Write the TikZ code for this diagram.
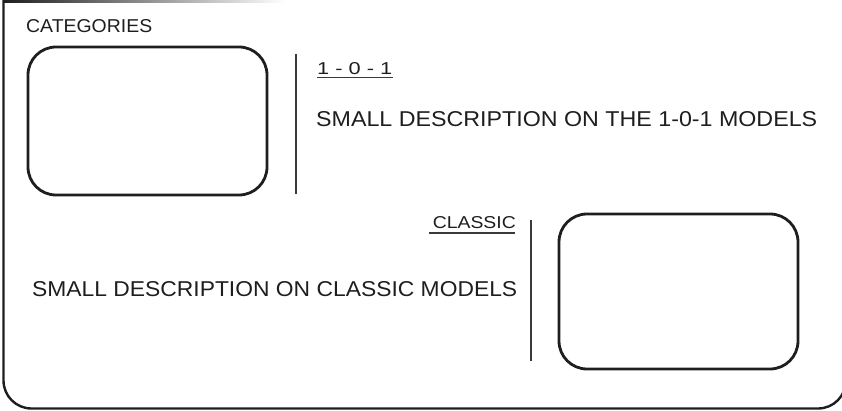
\documentclass[tikz,border=0pt]{standalone}
\usepackage{fontspec}
\setmainfont{Liberation Sans}
\usepackage{graphicx}
\definecolor{ink}{HTML}{1E1E1E}
\definecolor{rule}{HTML}{3A3A3A}
\tikzset{
  sketchbox/.style={draw=ink, line width=2.8pt, rounded corners=28pt, inner sep=0pt},
  divider/.style={draw=rule, line width=1.3pt},
  uline/.style={draw=rule, line width=1.4pt},
  lbl/.style={inner sep=0pt, text=ink},
  frame/.style={draw=ink, line width=2.4pt}
}
\begin{document}
\begin{tikzpicture}[x=1pt,y=-1pt]
\useasboundingbox (0,0) rectangle (842,411);
\clip (0,0) rectangle (842,411);
% outer frame
\draw[frame, rounded corners=28pt] (3.5,-10) -- (3.5,408.5) -- (846,408.5) -- (846,300);
\shade[left color=ink, right color=white] (3,0) rectangle (285,2.2);
% boxes
\node[sketchbox, minimum width=239pt, minimum height=148pt] (b1) at (147.5,121) {};
\node[sketchbox, minimum width=239pt, minimum height=155pt] (b2) at (678.5,291.5) {};
% dividers
\coordinate (d1t) at (296,54);
\coordinate (d1b) at (296,194);
\draw[divider] (d1t) -- (d1b);
\coordinate (d2t) at (531,220);
\coordinate (d2b) at (531,361);
\draw[divider] (d2t) -- (d2b);
% labels
\node[lbl, anchor=south west] (cat) at (26,33) {\resizebox{126pt}{13pt}{CATEGORIES}};
\node[lbl, anchor=south west] (t1) at (317,75) {\resizebox{75pt}{12pt}{1 - 0 - 1}};
\draw[uline] (317,77.5) -- (393,77.5);
\node[lbl, anchor=south west] (d1) at (316,127) {\resizebox{501pt}{15pt}{SMALL DESCRIPTION ON THE 1-0-1 MODELS}};
\node[lbl, anchor=south east] (t2) at (516,229) {\resizebox{83pt}{12pt}{CLASSIC}};
\draw[uline] (429,233) -- (515,233);
\node[lbl, anchor=south west] (d2) at (32,297) {\resizebox{485pt}{15pt}{SMALL DESCRIPTION ON CLASSIC MODELS}};
\end{tikzpicture}
\end{document}
